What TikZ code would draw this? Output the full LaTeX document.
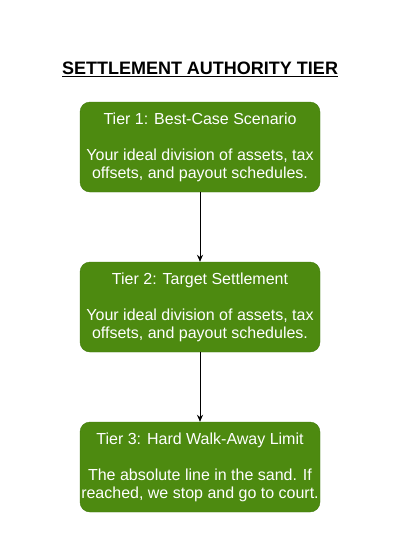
\documentclass[tikz,border=0pt]{standalone}
\usepackage{fontspec}
\setmainfont{Liberation Sans}
\usetikzlibrary{arrows.meta}
\definecolor{tiergreen}{HTML}{4D8A10}
\definecolor{tierstroke}{HTML}{3F7A0A}
\begin{document}
\begin{tikzpicture}[x=1pt,y=-1pt,
  tierbox/.style={draw=tierstroke, fill=tiergreen, rounded corners=10pt, minimum width=240pt, minimum height=90pt, text=white, align=center, font=\fontsize{16}{18}\selectfont, inner sep=0pt},
  link/.style={draw=black, line width=0.8pt, -{Stealth[length=7pt,width=6pt]}}]
\useasboundingbox (0,0) rectangle (400,560);
\fill[white] (0,0) rectangle (400,560);
\node[font=\bfseries\fontsize{18}{20}\selectfont] (title) at (200,69) {\underline{SETTLEMENT AUTHORITY TIER}};
\node[tierbox] (t1) at (200,147) {Tier 1: Best-Case Scenario\\[18pt]Your ideal division of assets, tax\\offsets, and payout schedules.};
\node[tierbox] (t2) at (200,307) {Tier 2: Target Settlement\\[18pt]Your ideal division of assets, tax\\offsets, and payout schedules.};
\node[tierbox] (t3) at (200,467) {Tier 3: Hard Walk-Away Limit\\[18pt]The absolute line in the sand. If\\reached, we stop and go to court.};
\draw[link] (t1) -- (t2);
\draw[link] (t2) -- (t3);
\end{tikzpicture}
\end{document}
